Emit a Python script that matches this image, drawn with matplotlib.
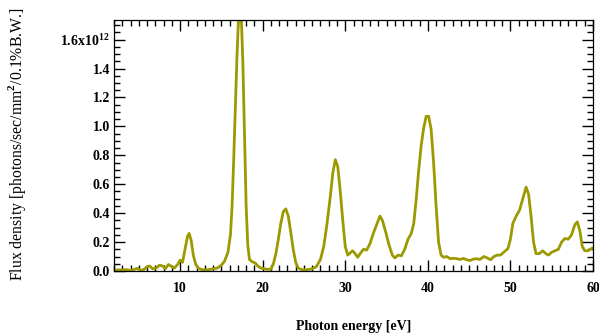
import matplotlib
matplotlib.use("Agg")
import matplotlib.pyplot as plt
from matplotlib.ticker import MultipleLocator, FuncFormatter

energy = [2.0, 2.5, 3.0, 3.5, 4.0, 4.4, 4.8, 5.2, 5.6, 6.0, 6.3, 6.7, 7.1, 7.5, 7.9, 8.2, 8.6, 9.0, 9.3,
          9.7, 10.0, 10.3, 10.6, 10.9, 11.1, 11.35, 11.6, 11.9, 12.2, 12.6, 13.0, 13.5, 14.0, 14.5,
          15.0, 15.4, 15.8, 16.1, 16.3, 16.5, 16.7, 16.9, 17.1, 17.25, 17.4, 17.6, 17.8, 18.0, 18.2,
          18.4, 18.7, 19.1, 19.4, 19.8, 20.5, 21.0, 21.3, 21.6, 21.9, 22.2, 22.5, 22.8, 23.1, 23.4,
          23.7, 24.0, 24.3, 24.8, 25.5, 26.0, 26.5, 27.0, 27.4, 27.8, 28.2, 28.5, 28.8, 29.1, 29.4,
          29.7, 30.0, 30.3, 30.6, 30.9, 31.2, 31.5, 31.8, 32.2, 32.6, 33.0, 33.4, 33.8, 34.2, 34.5,
          34.9, 35.3, 35.7, 36.0, 36.4, 36.8, 37.2, 37.6, 38.0, 38.3, 38.6, 38.9, 39.2, 39.5, 39.8,
          40.1, 40.4, 40.7, 41.0, 41.3, 41.6, 41.9, 42.3, 42.7, 43.1, 43.5, 43.9, 44.3, 44.7, 45.1,
          45.5, 45.9, 46.3, 46.8, 47.2, 47.6, 48.0, 48.4, 48.8, 49.2, 49.7, 50.0, 50.3, 50.7, 51.1,
          51.5, 51.9, 52.2, 52.5, 52.8, 53.1, 53.5, 53.9, 54.3, 54.6, 55.0, 55.4, 55.8, 56.2, 56.6,
          57.0, 57.4, 57.8, 58.1, 58.4, 58.7, 59.0, 59.4, 59.8, 60.0]
flux = [0.005, 0.008, 0.006, 0.010, 0.003, 0.010, 0.018, 0.006, 0.010, 0.030, 0.035, 0.015, 0.020, 0.040,
        0.035, 0.015, 0.045, 0.030, 0.020, 0.045, 0.075, 0.060, 0.150, 0.240, 0.260, 0.210, 0.110, 0.045,
        0.020, 0.010, 0.008, 0.010, 0.015, 0.020, 0.040, 0.070, 0.130, 0.250, 0.450, 0.780, 1.150, 1.500,
        1.780, 1.900, 1.780, 1.450, 0.950, 0.450, 0.180, 0.080, 0.065, 0.055, 0.035, 0.020, 0.012, 0.012,
        0.050, 0.120, 0.220, 0.330, 0.410, 0.430, 0.380, 0.270, 0.150, 0.060, 0.020, 0.008, 0.010, 0.015,
        0.030, 0.080, 0.170, 0.330, 0.520, 0.680, 0.770, 0.720, 0.550, 0.350, 0.170, 0.110, 0.125, 0.140,
        0.120, 0.095, 0.120, 0.150, 0.145, 0.190, 0.260, 0.320, 0.380, 0.350, 0.270, 0.180, 0.110, 0.090,
        0.110, 0.105, 0.150, 0.220, 0.260, 0.330, 0.500, 0.700, 0.870, 0.990, 1.070, 1.070, 0.980, 0.750,
        0.450, 0.200, 0.110, 0.095, 0.100, 0.085, 0.088, 0.085, 0.080, 0.087, 0.078, 0.072, 0.082, 0.085,
        0.080, 0.100, 0.090, 0.078, 0.100, 0.110, 0.110, 0.130, 0.155, 0.220, 0.330, 0.380, 0.420, 0.500,
        0.580, 0.530, 0.380, 0.200, 0.120, 0.120, 0.140, 0.120, 0.110, 0.130, 0.140, 0.150, 0.200, 0.225,
        0.220, 0.250, 0.320, 0.340, 0.280, 0.170, 0.140, 0.140, 0.155, 0.160]

x_label = "Photon energy [eV]"
y_label = r"Flux density [photons/sec/mm$^{\mathbf{2}}$/0.1%B.W.]"

plt.rcParams["mathtext.fontset"] = "custom"
plt.rcParams["mathtext.rm"] = "Liberation Serif"
plt.rcParams["mathtext.bf"] = "Liberation Serif:bold"

fig = plt.figure(figsize=(5.99, 3.34), dpi=100)
ax = fig.add_axes([114/599, 63/334, (593-114)/599, (271-20)/334])
ax.plot(energy, flux, color="#9c9a00", lw=2.0, solid_joinstyle="round")
ax.set_xlim(2, 60)
ax.set_ylim(0, 1.736)

ax.xaxis.set_major_locator(MultipleLocator(10))
ax.xaxis.set_minor_locator(MultipleLocator(1))
ax.yaxis.set_major_locator(MultipleLocator(0.2))
ax.yaxis.set_minor_locator(MultipleLocator(0.05))

def yfmt(v, pos):
    if abs(v - 1.6) < 1e-6:
        return r"1.6x10$^{\mathbf{12}}$"
    return f"{v:.1f}"
ax.yaxis.set_major_formatter(FuncFormatter(yfmt))

ax.tick_params(which="both", direction="in", top=True, right=True, width=1.0, color="black")
ax.tick_params(which="major", length=8)
ax.tick_params(which="minor", length=4.3)
ax.tick_params(axis="y", pad=3)
ax.tick_params(axis="x", pad=8)
for s in ax.spines.values():
    s.set_linewidth(0.9)

for lab in ax.get_xticklabels() + ax.get_yticklabels():
    lab.set_fontfamily("Liberation Serif")
    lab.set_fontweight("bold")
    lab.set_fontsize(10)

ax.set_xlabel(x_label, fontfamily="Liberation Serif", fontweight="bold", fontsize=10, labelpad=18)
ax.set_ylabel(y_label, fontfamily="Liberation Serif", fontsize=11.3)
ax.yaxis.set_label_coords(-0.18, 0.505)

fig.savefig("out.png", dpi=100)
